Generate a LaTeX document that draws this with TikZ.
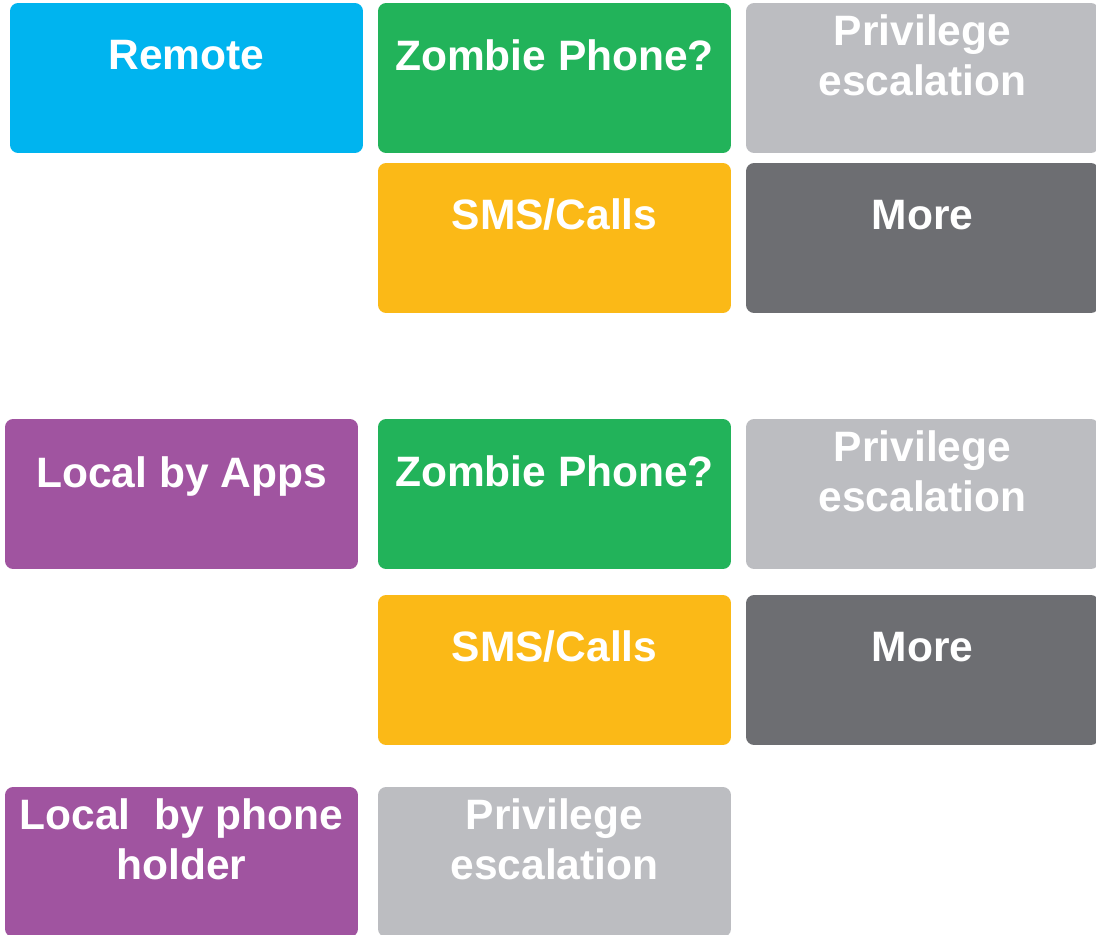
\documentclass[tikz,border=0pt]{standalone}
\usepackage{fontspec}
\setmainfont{Liberation Sans}
\definecolor{remotec}{HTML}{00B4EF}
\definecolor{zombiec}{HTML}{22B35A}
\definecolor{privc}{HTML}{BCBDC1}
\definecolor{smsc}{HTML}{FBB917}
\definecolor{morec}{HTML}{6D6E72}
\definecolor{localc}{HTML}{A054A0}
\begin{document}
\begin{tikzpicture}[x=0.02cm, y=-0.02cm,
  box/.style={rounded corners=0.16cm, minimum width=7.06cm, minimum height=3cm, inner sep=0pt},
  lbl/.style={text=white, font=\fontsize{24.2}{28.5}\selectfont\bfseries, align=center, inner sep=0pt}]
  \clip (0,0) rectangle (1096,934);

  % remote
  \node[box, fill=remotec] (remote) at (186.5,78) {};
  \node[box, fill=zombiec] (zombA) at (554.5,78) {};
  \node[box, fill=privc] (privA) at (922.5,78) {};
  \node[box, fill=smsc] (smsA) at (554.5,238) {};
  \node[box, fill=morec] (moreA) at (922.5,238) {};

  \node[lbl] (remote-l) at (186.5,55) {Remote};
  \node[lbl] (zombA-l) at (554.5,55) {Zombie Phone?};
  \node[lbl] (privA-l) at (922.5,55) {Privilege\\escalation};
  \node[lbl] (smsA-l) at (554.5,215) {SMS/Calls};
  \node[lbl] (moreA-l) at (922.5,215) {More};

  % local by apps
  \node[box, fill=localc] (apps) at (181.5,494) {};
  \node[box, fill=zombiec] (zombB) at (554.5,494) {};
  \node[box, fill=privc] (privB) at (922.5,494) {};
  \node[box, fill=smsc] (smsB) at (554.5,670) {};
  \node[box, fill=morec] (moreB) at (922.5,670) {};

  \node[lbl] (apps-l) at (181.5,476) {Local by Apps};
  \node[lbl] (zombB-l) at (554.5,471) {Zombie Phone?};
  \node[lbl] (privB-l) at (922.5,471) {Privilege\\escalation};
  \node[lbl] (smsB-l) at (554.5,647) {SMS/Calls};
  \node[lbl] (moreB-l) at (922.5,647) {More};

  % local by phone holder
  \node[box, fill=localc] (holder) at (181.5,862) {};
  \node[box, fill=privc] (privC) at (554.5,862) {};

  \node[lbl] (holder-l) at (181.5,839) {Local~ by phone\\holder};
  \node[lbl] (privC-l) at (554.5,839) {Privilege\\escalation};
\end{tikzpicture}
\end{document}
